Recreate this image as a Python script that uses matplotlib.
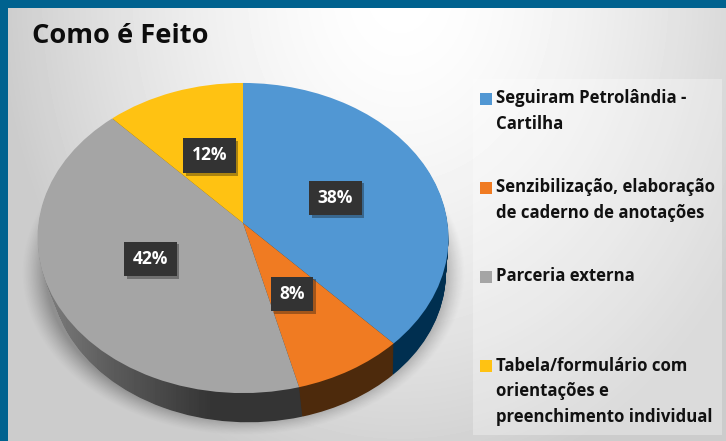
import numpy as np
import matplotlib
matplotlib.use("Agg")
import matplotlib.pyplot as plt
import matplotlib.patheffects as pe
from matplotlib.patches import Rectangle
from matplotlib.transforms import Transform

plt.rcParams['font.family'] = ['Open Sans', 'DejaVu Sans']

title = "Como é Feito"
categories = ["Seguiram Petrolândia -\nCartilha",
              "Senzibilização, elaboração\nde caderno de anotações",
              "Parceria externa",
              "Tabela/formulário com\norientações e\npreenchimento individual"]
values = [38, 8, 42, 12]
colors = ["#5197d3", "#f07b22", "#a5a5a5", "#ffc212"]
wall_colors = ["#002f50", "#4d2a0c", "#333535", "#6b5208"]

W, H = 726, 441
apex_x, apex_y = 243, 223   # where the slices meet on the tilted disk
depth_layers = 36


class TiltedDisk(Transform):
    """Unit pie disk to pixels, with perspective. t=0 is the top face, t=1 the bottom face."""
    input_dims = 2
    output_dims = 2
    is_separable = False
    has_inverse = False

    def __init__(self, t=0.0):
        super().__init__()
        self.t = t

    def transform_non_affine(self, values):
        pts = np.asarray(values, dtype=float)
        u, v = pts[:, 0], pts[:, 1]
        w = 1 + 0.0968 * v
        s = 1 - 0.04 * self.t
        x = apex_x + 5.5 * self.t + s * 204.5 * u / w
        y = apex_y + 36 * self.t - s * 153.6 * v / w
        return np.column_stack([x, y])


fig = plt.figure(figsize=(W / 100, H / 100), dpi=100)

ax = fig.add_axes([0, 0, 1, 1])
yy, xx = np.mgrid[0:H, 0:W]

# background glow
dist = np.sqrt(((xx - 400) / 400) ** 2 + ((yy + 10) / 500) ** 2)
shade = 1.0 - 0.20 * np.clip(dist, 0, 1.0) ** 1.6
ax.imshow(shade, cmap="gray", vmin=0, vmax=1, extent=(0, W, H, 0), aspect="auto", zorder=0)

# soft shadow under the pie
d = np.sqrt(((xx - 243) / 222) ** 2 + ((yy - 272) / 163) ** 2)
shadow = np.zeros((H, W, 4))
shadow[..., 3] = (np.clip((1.0 - d) / 0.11, 0, 1) ** 1.3) * 0.3
ax.imshow(shadow, extent=(0, W, H, 0), aspect="auto", zorder=1)

# side wall, stacked from the bottom face up
wall_grad = np.interp(np.arange(W), [40, 110, 210, W], [0.50, 0.36, 0.21, 0.21]).reshape(1, W)
for k in range(depth_layers):
    layer_z = 2 + k * 0.01
    t = 1 - k / depth_layers
    wedges, _ = ax.pie(values, colors=wall_colors, startangle=90, counterclock=False,
                       wedgeprops={"linewidth": 0})
    for wedge in wedges:
        wedge.set_transform(TiltedDisk(t) + ax.transData)
        wedge.set_zorder(layer_z)
    # grey part of the wall fades out towards the left
    wedges[2].set_visible(False)
    im = ax.imshow(wall_grad, cmap="gray", vmin=0, vmax=1, extent=(0, W, H, 0), aspect="auto", zorder=layer_z)
    im.set_clip_path(wedges[2])

# top face
wedges, _ = ax.pie(values, colors=colors, startangle=90, counterclock=False, wedgeprops={"linewidth": 0})
for wedge in wedges:
    wedge.set_transform(TiltedDisk(0) + ax.transData)
    wedge.set_zorder(3)

ax.set_aspect("auto")
ax.set_xlim(0, W)
ax.set_ylim(H, 0)
ax.axis("off")

# blue frame, left and top
ax.add_patch(Rectangle((0, 0), W, 8, color="#00628f", lw=0, zorder=4))
ax.add_patch(Rectangle((0, 0), 8, H, color="#00628f", lw=0, zorder=4))

# legend panel
ax.add_patch(Rectangle((473, 79), 249, 356, color="white", alpha=0.3, lw=0, zorder=4))

ax.text(32, 36, title, fontsize=19.6, fontweight="bold", color="#0d0d0d", va="center", ha="left", zorder=5)

for i, lab in enumerate(categories):
    top = 90 + 89.2 * i
    ax.add_patch(Rectangle((480, top + 2.5), 12, 12, color=colors[i], lw=0, zorder=5))
    ax.text(496, top - 1, lab, fontsize=12.1, fontweight="bold", color="#111111", va="top", ha="left",
            linespacing=1.55, zorder=5)

# data labels
label_x = [335.5, 292, 150.5, 209.5]
label_y = [198, 294, 259, 155.5]
for x, y, v in zip(label_x, label_y, values):
    t = ax.text(x, y, f"{v}%", fontsize=12.5, fontweight="bold", color="white", ha="center", va="center", zorder=6,
                bbox={"boxstyle": "square,pad=0.48", "facecolor": "#333333", "edgecolor": "none"})
    t.get_bbox_patch().set_path_effects([pe.SimplePatchShadow(offset=(2, -2), alpha=0.35), pe.Normal()])

fig.savefig("out.png", dpi=100)
